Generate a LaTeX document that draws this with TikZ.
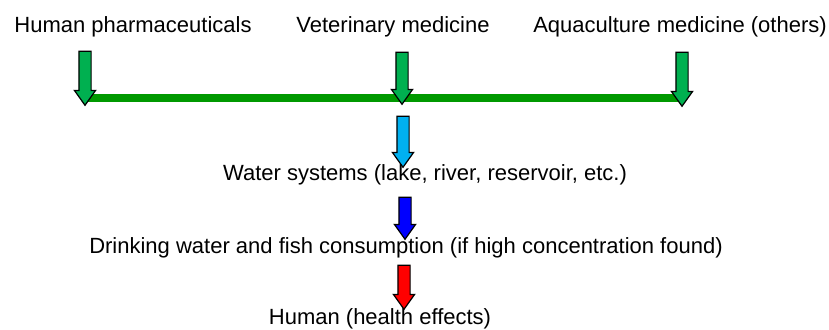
\documentclass[tikz,border=0pt]{standalone}
\usepackage{fontspec}
\setmainfont{Liberation Sans}
\usepackage{xcolor}
\usetikzlibrary{shapes.arrows, positioning, calc}

\definecolor{drugGreen}{RGB}{0,176,80}
\definecolor{barGreen}{RGB}{0,153,0}
\definecolor{waterBlue}{RGB}{0,176,240}
\definecolor{drinkBlue}{RGB}{0,0,255}
\definecolor{humanRed}{RGB}{255,0,0}

\begin{document}
\begin{tikzpicture}[
    x=1pt, y=-1pt,
    label/.style={inner sep=0pt, anchor=base, font=\fontsize{22}{26}\selectfont},
    flow/.style={draw=black, line width=1.2pt, single arrow, rotate=-90, inner xsep=0pt, inner ysep=5.5pt,
        minimum width=20pt, single arrow head extend=4.5pt, single arrow tip angle=71},
    bar/.style={draw=barGreen, line width=8pt}
]
    \useasboundingbox (0,0) rectangle (829,329);

    % sources
    \node[label] (hp) at (133,33) {Human pharmaceuticals};
    \node[label] (vm) at (393,33) {Veterinary medicine};
    \node[label] (am) at (680,33) {Aquaculture medicine (others)};

    % collecting bar
    \coordinate (barL) at (85,98);
    \coordinate (barR) at (682,98);
    \draw[bar] (barL) -- (barR);

    \node[flow, fill=drugGreen, minimum height=54pt] (a1) at (85,74) {};
    \node[flow, fill=drugGreen, minimum height=52pt] (a2) at (402,74) {};
    \node[flow, fill=drugGreen, minimum height=54pt] (a3) at (682,75) {};

    % pathway
    \node[flow, fill=waterBlue, minimum height=51pt] (a4) at (403,137.5) {};
    \node[label] (ws) at (425,180) {Water systems (lake, river, reservoir, etc.)};
    \node[flow, fill=drinkBlue, minimum height=42pt] (a5) at (405,214) {};
    \node[label] (dw) at (406,253) {Drinking water and fish consumption (if high concentration found)};
    \node[flow, fill=humanRed, minimum height=44pt] (a6) at (404,283) {};
    \node[label] (hu) at (380,324) {Human (health effects)};
\end{tikzpicture}
\end{document}
